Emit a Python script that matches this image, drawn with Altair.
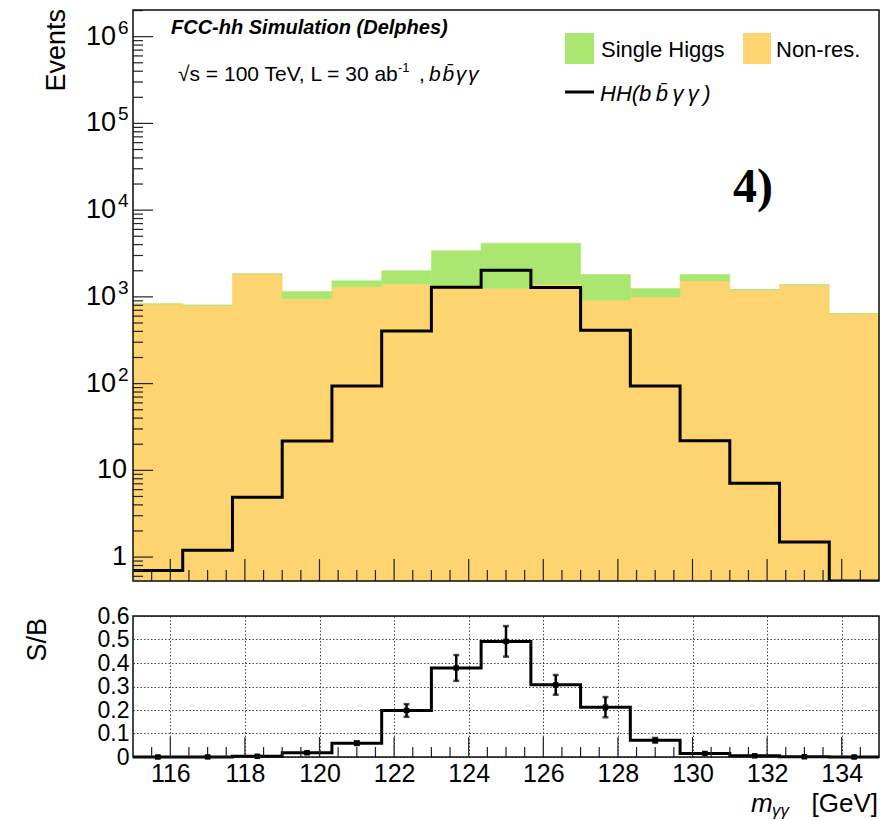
import altair as alt
import pandas as pd

# ---- histogram content (bins of 4/3 GeV between 115 and 135 GeV) ----
edges = [115.0, 116.333, 117.667, 119.0, 120.333, 121.667, 123.0, 124.333,
         125.667, 127.0, 128.333, 129.667, 131.0, 132.333, 133.667, 135.0]
nonres = [830, 800, 1840, 960, 1310, 1410, 1300, 1260, 1400, 920, 1000, 1520, 1200, 1370, 640]
single_higgs = [0, 0, 0, 190, 220, 590, 2100, 2890, 2750, 890, 250, 290, 15, 10, 5]
hh_signal = [0.70, 1.2, 4.9, 21.8, 94, 405, 1290, 2030, 1280, 413, 94, 22, 7.1, 1.49, 0.53]

# signal over background ratio with its uncertainty
sb_ratio = [0.0, 0.0005, 0.003, 0.018, 0.059, 0.198, 0.379, 0.492, 0.307, 0.212, 0.071, 0.015, 0.005, 0.001, 0.0]
sb_error = [0.002, 0.002, 0.002, 0.004, 0.008, 0.027, 0.055, 0.065, 0.042, 0.043, 0.010, 0.003, 0.002, 0.002, 0.002]

# axis decorations
x_major = [116, 118, 120, 122, 124, 126, 128, 130, 132, 134]
x_minor = [v / 2 for v in range(231, 270) if v % 4 != 0]
y_decades = [1, 10, 100, 1000, 10000, 100000, 1000000]
y_minor = [0.6, 0.7, 0.8, 0.9] + [m * 10 ** k for k in range(0, 6) for m in range(2, 10)] + [2000000]
y_plain_labels = ["1", "10"]
y_exp_labels = ["2", "3", "4", "5", "6"]
sb_values = [0, 0.1, 0.2, 0.3, 0.4, 0.5, 0.6]

ORANGE = "#fed470"
GREEN = "#a9e771"
FONT = "Liberation Sans"
W, H_TOP, H_BOT = 746, 571, 141

x_scale = alt.Scale(domain=[115, 135], nice=False, zero=False)
y_log = alt.Scale(type="log", domain=[0.53, 2.03e6], nice=False)
y_sb = alt.Scale(domain=[0, 0.6], nice=False, zero=False)

bins = pd.DataFrame({"lo": edges[:-1], "hi": edges[1:], "nonres": nonres,
                     "single": single_higgs, "hh": hh_signal,
                     "sb": sb_ratio, "err": sb_error})
bins["total"] = bins["nonres"] + bins["single"]
bins["center"] = (bins["lo"] + bins["hi"]) / 2
bins["sb_lo"] = bins["sb"] - bins["err"]
bins["sb_hi"] = bins["sb"] + bins["err"]

hh_step = pd.DataFrame({"m": edges, "v": hh_signal + [hh_signal[-1]]})
sb_step = pd.DataFrame({"m": edges, "v": sb_ratio + [sb_ratio[-1]]})

one = pd.DataFrame({"k": [0]})


def label(text, x, y, size, **kw):
    return alt.Chart(one).mark_text(text=text, fontSize=size, font=kw.pop("font", FONT),
                                    align=kw.pop("align", "left"),
                                    baseline=kw.pop("baseline", "alphabetic"),
                                    color="black", **kw).encode(
        x=alt.value(x), y=alt.value(y))


def xq(field):
    return alt.X(f"{field}:Q", scale=x_scale, axis=None)


# ---------------- upper panel ----------------
orange = alt.Chart(bins).mark_rect(color=ORANGE, stroke=ORANGE, strokeWidth=0.6).encode(
    x=xq("lo"), x2="hi",
    y=alt.Y("nonres:Q", scale=y_log, axis=None), y2=alt.value(H_TOP))
green = alt.Chart(bins).mark_rect(color=GREEN, stroke=GREEN, strokeWidth=0.6).encode(
    x=xq("lo"), x2="hi",
    y=alt.Y("total:Q", scale=y_log, axis=None), y2="nonres")
hh_line = alt.Chart(hh_step).mark_line(interpolate="step-after", color="black",
                                       strokeWidth=3, clip=True).encode(
    x=xq("m"), y=alt.Y("v:Q", scale=y_log, axis=None))

tx_major = alt.Chart(pd.DataFrame({"m": x_major})).mark_rule(color="#222", strokeWidth=1.2).encode(
    x=xq("m"), y=alt.value(H_TOP), y2=alt.value(H_TOP - 22))
tx_minor = alt.Chart(pd.DataFrame({"m": x_minor})).mark_rule(color="#222", strokeWidth=1.2).encode(
    x=xq("m"), y=alt.value(H_TOP), y2=alt.value(H_TOP - 11))
ty_major = alt.Chart(pd.DataFrame({"v": y_decades})).mark_rule(color="#222", strokeWidth=1.2).encode(
    y=alt.Y("v:Q", scale=y_log, axis=None), x=alt.value(0), x2=alt.value(20))
ty_minor = alt.Chart(pd.DataFrame({"v": y_minor})).mark_rule(color="#222", strokeWidth=1.2).encode(
    y=alt.Y("v:Q", scale=y_log, axis=None), x=alt.value(0), x2=alt.value(10))

plain = pd.DataFrame({"v": y_decades[:2], "t": y_plain_labels})
powers = pd.DataFrame({"v": y_decades[2:], "e": y_exp_labels})
ylab_plain = alt.Chart(plain).mark_text(fontSize=27, font=FONT, align="right",
                                        baseline="middle", color="black").encode(
    y=alt.Y("v:Q", scale=y_log, axis=None), x=alt.value(-6), text="t:N")
ylab_base = alt.Chart(powers).mark_text(text="10", fontSize=27, font=FONT, align="right",
                                        baseline="middle", color="black").encode(
    y=alt.Y("v:Q", scale=y_log, axis=None), x=alt.value(-17))
ylab_exp = alt.Chart(powers).mark_text(fontSize=19, font=FONT, align="left",
                                       baseline="middle", color="black", dy=-9).encode(
    y=alt.Y("v:Q", scale=y_log, axis=None), x=alt.value(-15), text="e:N")

frame_top = alt.Chart(one).mark_rect(fillOpacity=0, stroke="#111", strokeWidth=1.5).encode(
    x=alt.value(0), x2=alt.value(W), y=alt.value(0), y2=alt.value(H_TOP))

legend_items = [
    alt.Chart(one).mark_rect(color=GREEN).encode(
        x=alt.value(432), x2=alt.value(461), y=alt.value(23), y2=alt.value(54)),
    label("Single Higgs", 468, 40, 22, baseline="middle"),
    alt.Chart(one).mark_rect(color=ORANGE).encode(
        x=alt.value(610), x2=alt.value(638), y=alt.value(23), y2=alt.value(54)),
    label("Non-res.", 643, 40, 22, baseline="middle"),
    alt.Chart(one).mark_rule(color="black", strokeWidth=3).encode(
        x=alt.value(432), x2=alt.value(461), y=alt.value(82)),
    label("HH(b\u2009b\u0304\u2009\u03b3\u2009\u03b3\u2009)", 467, 84, 22,
          baseline="middle", fontStyle="italic"),
]

texts_top = [
    label("Events", -68, -1, 27, angle=270, align="right"),
    label("FCC-hh Simulation (Delphes)", 38, 24, 20, fontWeight="bold", fontStyle="italic"),
    label("\u221as = 100 TeV, L = 30 ab", 45, 71, 21),
    label("-1", 265, 62, 13),
    label(",", 286, 71, 21),
    label("b\u200ab\u0304\u200a\u03b3\u200a\u03b3", 296, 71, 21, fontStyle="italic"),
    label("4)", 600, 192, 48, font="Liberation Serif", fontWeight="bold"),
]

top = alt.layer(orange, green, hh_line, tx_major, tx_minor, ty_major, ty_minor,
                frame_top, ylab_plain, ylab_base, ylab_exp,
                *legend_items, *texts_top).properties(width=W, height=H_TOP)

# ---------------- ratio panel ----------------
grid_style = dict(grid=True, gridDash=[1.5, 2], gridColor="#444", gridWidth=1,
                  tickSize=0, domain=False, labelFont=FONT,
                  labelColor="black", labelOverlap=False, title=None)
x_axis = alt.Axis(values=x_major, format="d", labelPadding=4, labelFontSize=25, **grid_style)
y_axis = alt.Axis(values=sb_values, labelPadding=4, labelFontSize=23,
                  labelExpr="datum.value == 0 ? '0' : format(datum.value, '.1f')",
                  **grid_style)


def bx(field):
    return alt.X(f"{field}:Q", scale=x_scale, axis=x_axis)


def by(field):
    return alt.Y(f"{field}:Q", scale=y_sb, axis=y_axis)


sb_line = alt.Chart(sb_step).mark_line(interpolate="step-after", color="black",
                                       strokeWidth=3).encode(x=bx("m"), y=by("v"))
sb_bars = alt.Chart(bins).mark_rule(color="black", strokeWidth=2.5).encode(
    x=bx("center"), y=by("sb_lo"), y2="sb_hi")
sb_caps_lo = alt.Chart(bins).mark_tick(color="black", orient="horizontal", size=6,
                                       thickness=2.5).encode(x=bx("center"), y=by("sb_lo"))
sb_caps_hi = alt.Chart(bins).mark_tick(color="black", orient="horizontal", size=6,
                                       thickness=2.5).encode(x=bx("center"), y=by("sb_hi"))
sb_pts = alt.Chart(bins).mark_square(color="black", size=30, opacity=1).encode(
    x=bx("center"), y=by("sb"))

bx_major = alt.Chart(pd.DataFrame({"m": x_major})).mark_rule(color="#222", strokeWidth=1.2).encode(
    x=bx("m"), y=alt.value(H_BOT), y2=alt.value(H_BOT - 20))
bx_minor = alt.Chart(pd.DataFrame({"m": x_minor})).mark_rule(color="#222", strokeWidth=1.2).encode(
    x=bx("m"), y=alt.value(H_BOT), y2=alt.value(H_BOT - 10))
frame_bot = alt.Chart(one).mark_rect(fillOpacity=0, stroke="#111", strokeWidth=1.5).encode(
    x=alt.value(0), x2=alt.value(W), y=alt.value(0), y2=alt.value(H_BOT))

texts_bot = [
    label("S/B", -87, 2, 27, angle=270, align="right"),
    label("m", 618, 196, 26, fontStyle="italic"),
    label("\u03b3\u03b3", 639, 200, 17, fontStyle="italic"),
    label("[GeV]", 745, 196, 26, align="right"),
]

bottom = alt.layer(sb_line, bx_major, bx_minor, sb_bars, sb_caps_lo, sb_caps_hi, sb_pts,
                   frame_bot, *texts_bot).properties(width=W, height=H_BOT)

chart = alt.vconcat(top, bottom, spacing=21).properties(
    padding={"left": 23, "top": 8, "right": 0, "bottom": 0}
).configure_view(stroke=None).configure(font=FONT)

chart.save("out.html", embed_options={"renderer": "svg", "actions": False})
